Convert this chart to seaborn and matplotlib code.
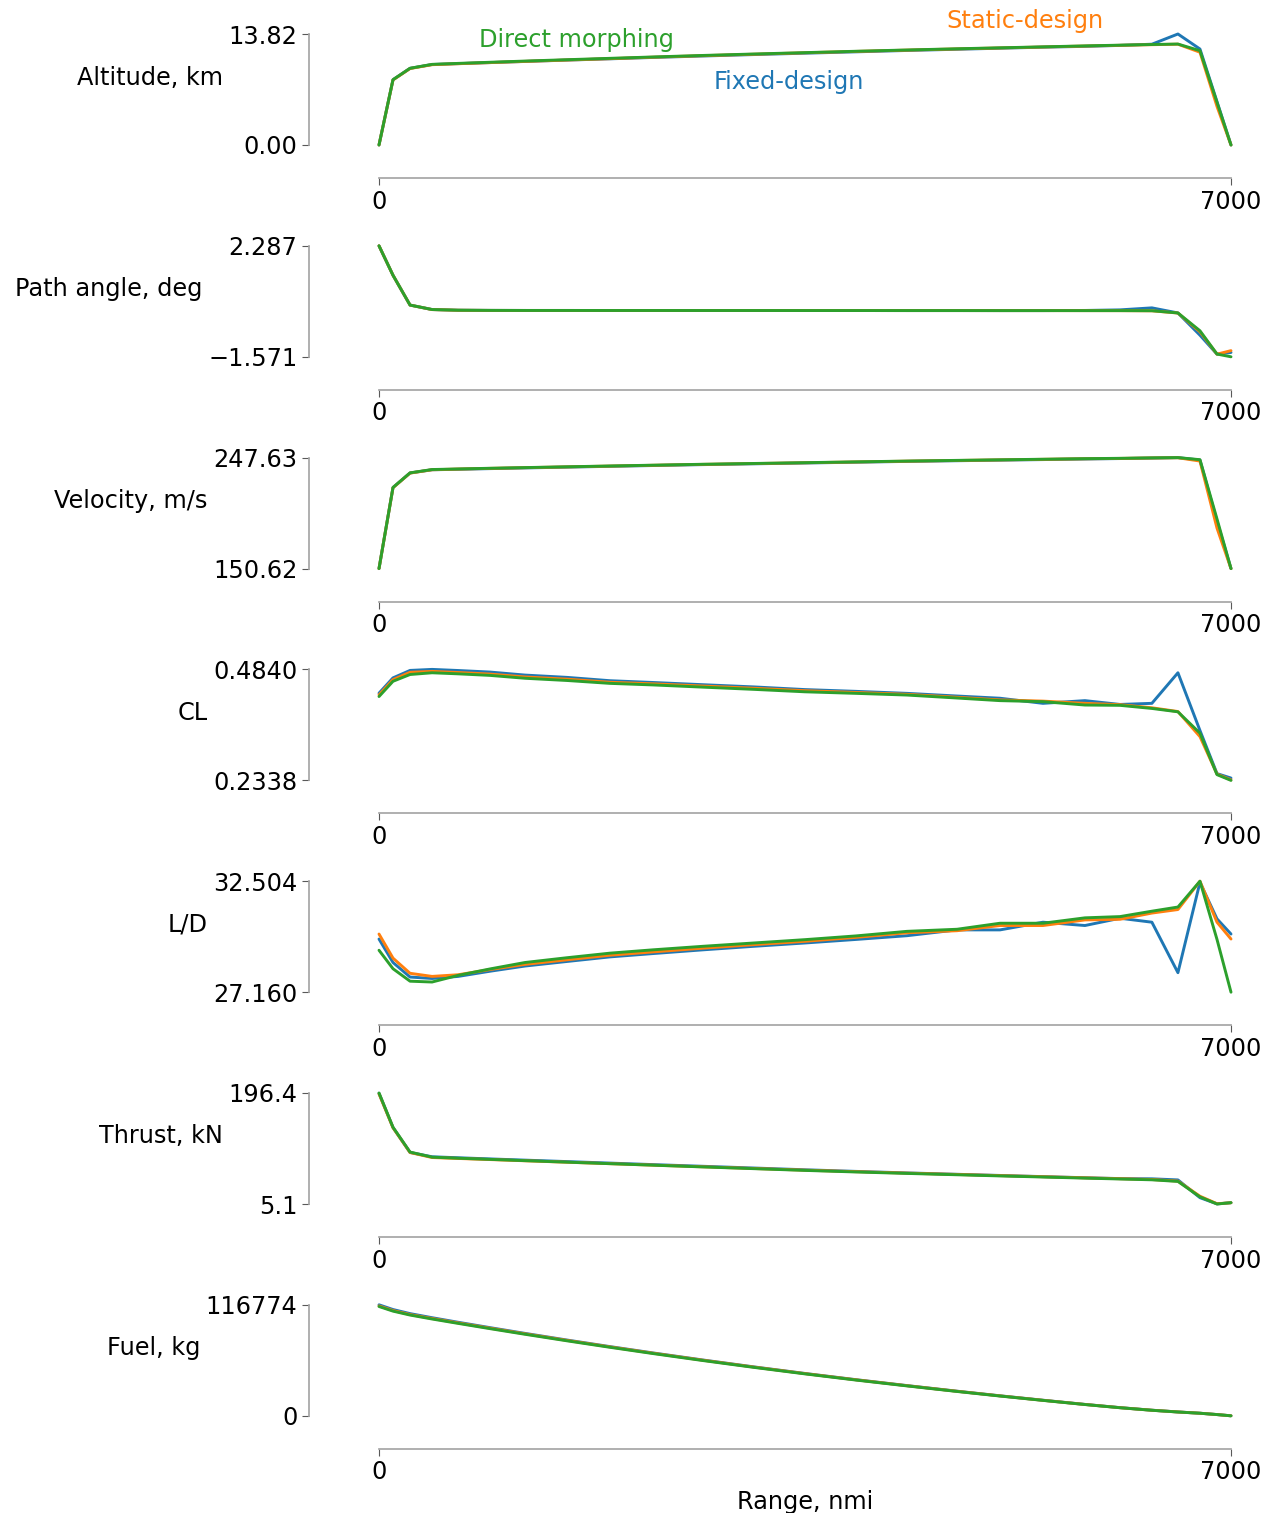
import numpy as np
import pandas as pd
import matplotlib
matplotlib.use("Agg")
import matplotlib.pyplot as plt
import seaborn as sns
from matplotlib.ticker import FuncFormatter

# range grid (nmi)
range_nmi = [0, 115, 255, 436, 650, 912, 1200, 1545, 1898, 2251, 2662, 3081, 3500,
             3919, 4338, 4749, 5102, 5455, 5800, 6088, 6350, 6564, 6745, 6885, 7000]

# altitude, km
alt_fixed = [0.00, 8.13, 9.55, 10.02, 10.13, 10.26, 10.40, 10.57, 10.73, 10.90, 11.08, 11.26, 11.43,
             11.60, 11.77, 11.92, 12.05, 12.18, 12.28, 12.40, 12.55, 13.82, 11.95, 5.40, 0.00]
alt_static = [0.00, 8.10, 9.52, 10.00, 10.12, 10.26, 10.41, 10.58, 10.75, 10.93, 11.12, 11.30, 11.48,
              11.65, 11.81, 11.96, 12.08, 12.20, 12.32, 12.41, 12.49, 12.55, 11.55, 4.80, 0.00]
alt_direct = [0.00, 8.13, 9.55, 10.04, 10.16, 10.30, 10.45, 10.62, 10.79, 10.96, 11.15, 11.33, 11.50,
              11.67, 11.83, 11.98, 12.10, 12.22, 12.34, 12.43, 12.51, 12.57, 11.74, 5.30, 0.00]

# path angle, deg
gam_fixed = [2.287, 1.263, 0.227, 0.072, 0.048, 0.042, 0.040, 0.040, 0.039, 0.039, 0.038, 0.038, 0.037,
             0.037, 0.036, 0.036, 0.035, 0.035, 0.040, 0.060, 0.130, -0.047, -0.820, -1.480, -1.420]
gam_static = [2.287, 1.263, 0.227, 0.070, 0.047, 0.041, 0.040, 0.040, 0.039, 0.039, 0.038, 0.038, 0.037,
              0.037, 0.036, 0.036, 0.035, 0.035, 0.034, 0.033, 0.028, -0.050, -0.700, -1.480, -1.357]
gam_direct = [2.287, 1.263, 0.227, 0.072, 0.048, 0.042, 0.040, 0.040, 0.039, 0.039, 0.038, 0.038, 0.037,
              0.037, 0.036, 0.036, 0.035, 0.035, 0.034, 0.034, 0.030, -0.047, -0.666, -1.476, -1.571]

# velocity, m/s
vel_fixed = [150.62, 221.5, 234.2, 237.0, 237.4, 238.0, 238.6, 239.3, 240.0, 240.7, 241.5, 242.2, 242.9,
             243.6, 244.3, 244.9, 245.4, 245.9, 246.4, 246.8, 247.2, 247.6, 245.5, 192.0, 150.62]
vel_static = [150.62, 221.3, 234.1, 237.0, 237.6, 238.2, 238.8, 239.5, 240.2, 240.9, 241.7, 242.4, 243.1,
              243.8, 244.5, 245.1, 245.6, 246.1, 246.6, 246.9, 247.3, 247.5, 244.6, 186.0, 150.62]
vel_direct = [150.62, 221.5, 234.3, 237.2, 237.7, 238.3, 238.9, 239.6, 240.3, 241.0, 241.8, 242.5, 243.2,
              243.9, 244.6, 245.2, 245.7, 246.2, 246.7, 247.0, 247.4, 247.63, 245.8, 194.0, 150.62]

# lift coefficient
cl_fixed = [0.4304, 0.4649, 0.4817, 0.4840, 0.4815, 0.4780, 0.4712, 0.4660, 0.4585, 0.4545, 0.4495, 0.4445, 0.4385,
            0.4345, 0.4300, 0.4240, 0.4190, 0.4075, 0.4136, 0.4050, 0.4075, 0.4764, 0.3463, 0.2491, 0.2391]
cl_static = [0.4265, 0.4610, 0.4775, 0.4795, 0.4770, 0.4735, 0.4670, 0.4620, 0.4550, 0.4515, 0.4465, 0.4415, 0.4360,
             0.4320, 0.4278, 0.4212, 0.4152, 0.4125, 0.4075, 0.4045, 0.3975, 0.3890, 0.3325, 0.2480, 0.2350]
cl_direct = [0.4228, 0.4572, 0.4725, 0.4764, 0.4740, 0.4705, 0.4640, 0.4590, 0.4525, 0.4490, 0.4440, 0.4390, 0.4335,
             0.4300, 0.4262, 0.4195, 0.4136, 0.4113, 0.4037, 0.4030, 0.3960, 0.3884, 0.3402, 0.2468, 0.2338]

# lift-to-drag ratio
ld_fixed = [29.72, 28.59, 27.89, 27.82, 27.92, 28.17, 28.42, 28.64, 28.86, 29.02, 29.20, 29.37, 29.53,
            29.70, 29.88, 30.16, 30.16, 30.53, 30.37, 30.72, 30.53, 28.10, 32.45, 30.69, 29.96]
ld_static = [29.96, 28.80, 28.07, 27.92, 28.00, 28.25, 28.50, 28.72, 28.94, 29.10, 29.28, 29.45, 29.61,
             29.80, 30.02, 30.12, 30.37, 30.37, 30.64, 30.67, 30.97, 31.14, 32.504, 30.53, 29.72]
ld_direct = [29.18, 28.29, 27.69, 27.65, 27.97, 28.28, 28.59, 28.82, 29.04, 29.20, 29.37, 29.53, 29.69,
             29.87, 30.09, 30.19, 30.48, 30.48, 30.74, 30.80, 31.06, 31.26, 32.504, 29.70, 27.160]

# thrust, kN
thr_fixed = [196.0, 137.0, 94.0, 86.5, 84.8, 82.8, 80.7, 78.2, 75.6, 73.0, 70.1, 67.1, 64.1,
             61.3, 58.7, 56.3, 54.3, 52.3, 50.4, 48.9, 48.5, 46.6, 16.0, 5.3, 7.3]
thr_static = [195.0, 136.5, 93.8, 85.2, 83.6, 81.7, 79.6, 77.1, 74.6, 72.1, 69.2, 66.3, 63.4,
              60.8, 58.3, 56.0, 54.0, 52.1, 50.2, 48.7, 47.3, 44.5, 18.5, 5.6, 7.2]
thr_direct = [196.4, 137.3, 94.6, 85.8, 84.0, 82.0, 79.8, 77.2, 74.6, 72.0, 69.0, 66.0, 63.0,
              60.3, 57.8, 55.5, 53.5, 51.6, 49.7, 48.2, 46.8, 44.0, 17.4, 5.1, 7.4]

# fuel, kg
fuel_fixed = [116774, 111800, 107500, 103200, 98400, 92750, 86700, 79700, 72800, 66150, 58700, 51450, 44550,
              38000, 31800, 25900, 21050, 16400, 12000, 8600, 5900, 4050, 2720, 1310, 0]
fuel_static = [115600, 110700, 106500, 102350, 97700, 92150, 86200, 79300, 72450, 65850, 58450, 51230, 44370,
               37850, 31660, 25780, 20950, 16300, 11930, 8540, 5850, 4020, 2700, 1300, 0]
fuel_direct = [114990, 110115, 105993, 101840, 97220, 91688, 85763, 78877, 72064, 65485, 58116, 50924, 44100,
               37600, 31450, 25600, 20800, 16200, 11850, 8480, 5800, 3990, 2680, 1290, 0]

panel_labels = ["Altitude, km", "Path angle, deg", "Velocity, m/s", "CL", "L/D", "Thrust, kN", "Fuel, kg"]
panel_fmt = ["{:.2f}", "{:.3f}", "{:.2f}", "{:.4f}", "{:.3f}", "{:.1f}", "{:.0f}"]
panels = [
    (alt_fixed, alt_static, alt_direct),
    (gam_fixed, gam_static, gam_direct),
    (vel_fixed, vel_static, vel_direct),
    (cl_fixed, cl_static, cl_direct),
    (ld_fixed, ld_static, ld_direct),
    (thr_fixed, thr_static, thr_direct),
    (fuel_fixed, fuel_static, fuel_direct),
]

colors = sns.color_palette("tab10")[:3]

sns.set_theme(style="ticks")
plt.rcParams["font.family"] = ["DejaVu Sans"]
plt.rcParams["font.size"] = 17
plt.rcParams["axes.edgecolor"] = "0.65"
plt.rcParams["text.color"] = "black"
plt.rcParams["axes.labelcolor"] = "black"
plt.rcParams["xtick.labelcolor"] = "black"
plt.rcParams["ytick.labelcolor"] = "black"

W, H = 1274, 1513
fig = plt.figure(figsize=(W / 100, H / 100), dpi=100)

ax_h = 122.1
for i, (label, fmt, series) in enumerate(zip(panel_labels, panel_fmt, panels)):
    top = 28.45 + 211.8 * i
    ax = fig.add_axes([336.4 / W, 1 - (top + ax_h) / H, 937.2 / W, ax_h / H])
    for vals, c in zip(series, colors):
        sns.lineplot(x=range_nmi, y=vals, color=c, lw=2.1, ax=ax, sort=False, estimator=None)
    allv = np.concatenate([np.asarray(s, dtype=float) for s in series])
    ax.set_xticks([0, 7000])
    ax.set_yticks([allv.min(), allv.max()])
    ax.yaxis.set_major_formatter(FuncFormatter(lambda v, p, f=fmt: f.format(v).replace("-", "\u2212")))
    ax.tick_params(labelsize=17.3, color="0.35", labelcolor="black", length=4.9, width=0.8)
    ax.set_ylabel(label, rotation=0, ha="right", va="bottom", fontsize=17.3, color="black")
    sns.despine(ax=ax, offset=19.7, trim=True)
    if i == 0:
        ax.text(1619, 13.07, "Direct morphing", color=colors[2], ha="center", va="center", fontsize=17.3)
        ax.text(5307, 15.44, "Static-design", color=colors[1], ha="center", va="center", fontsize=17.3)
        ax.text(3369, 7.84, "Fixed-design", color=colors[0], ha="center", va="center", fontsize=17.3)
    if i == len(panels) - 1:
        ax.set_xlabel("Range, nmi", fontsize=17.3, color="black")

fig.savefig("out.png", dpi=100)
